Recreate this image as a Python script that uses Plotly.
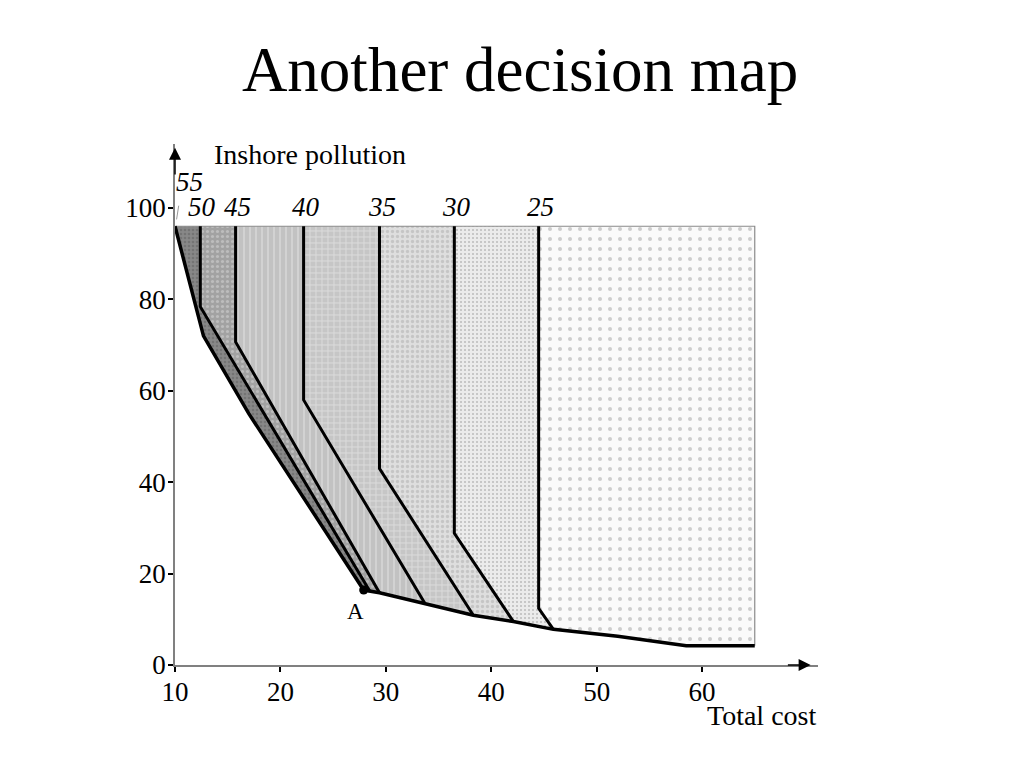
import plotly.graph_objects as go

# ---------------- data ----------------
contour_levels = [50, 45, 40, 35, 30, 25]
vert_x = [12.4, 15.75, 22.2, 29.4, 36.5, 44.5]      # x of vertical part of each contour
kink_y = [78.4, 70.7, 58.0, 43.0, 28.8, 12.4]       # where vertical part bends
end_x = [28.5, 29.4, 33.7, 38.3, 42.1, 45.9]        # where contour meets frontier
end_y = [16.1, 15.8, 13.5, 10.9, 9.5, 7.8]

frontier_x = [10, 12.7, 17.0, 27.9, 29.4, 33.7, 38.3, 42.1, 45.9, 52.0, 58.5, 65]
frontier_y = [96, 72.0, 55.0, 16.4, 15.8, 13.5, 10.9, 9.5, 7.8, 6.3, 4.2, 4.2]

top_level = 55
top_y = 96
right_x = 65

point_A = (27.9, 16.4)

x_ticks = [10, 20, 30, 40, 50, 60]
y_ticks = [0, 20, 40, 60, 80, 100]

# ---------------- styles ----------------
FONT = "Liberation Serif"
region_styles = [
    dict(bg="#888888", fg="#606060", shape=".", size=4, sol=0.35),
    dict(bg="#a2a2a2", fg="#d8d8d8", shape=".", size=5, sol=0.3),
    dict(bg="#c2c2c2", fg="#eeeeee", shape="|", size=6, sol=0.25),
    dict(bg="#c6c6c6", fg="#f1f1f1", shape="+", size=6, sol=0.3),
    dict(bg="#dedede", fg="#ababab", shape=".", size=5, sol=0.35),
    dict(bg="#ebebeb", fg="#8a8a8a", shape=".", size=4, sol=0.2),
    dict(bg="#fafafa", fg="#a0a0a0", shape=".", size=10, sol=0.13),
]

# contour polylines top -> bottom
lines = []
for vx, ky, ex, ey in zip(vert_x, kink_y, end_x, end_y):
    lines.append(([vx, vx, ex], [top_y, ky, ey]))

left_bounds = [([frontier_x[0]], [frontier_y[0]])] + lines
right_bounds = lines + [([right_x, right_x], [top_y, frontier_y[-1]])]

fig = go.Figure()

for (lx, ly), (rx, ry), st in zip(left_bounds, right_bounds, region_styles):
    px = list(lx)
    py = list(ly)
    for fx, fy in zip(frontier_x, frontier_y):
        if lx[-1] < fx < rx[-1]:
            px.append(fx)
            py.append(fy)
    px += list(reversed(rx))
    py += list(reversed(ry))
    fig.add_trace(go.Scatter(
        x=px, y=py, mode="lines", fill="toself", line=dict(width=0),
        fillcolor=st["bg"],
        fillpattern=dict(shape=st["shape"], bgcolor=st["bg"], fgcolor=st["fg"],
                         size=st["size"], solidity=st["sol"]),
        hoverinfo="skip", showlegend=False))

# box top and right edge
fig.add_trace(go.Scatter(x=[frontier_x[0], right_x, right_x], y=[top_y, top_y, frontier_y[-1]],
                         mode="lines", line=dict(color="#8a8a8a", width=1.2),
                         hoverinfo="skip", showlegend=False))

# contour lines
for lx, ly in lines:
    fig.add_trace(go.Scatter(x=lx, y=ly, mode="lines", line=dict(color="black", width=3),
                             hoverinfo="skip", showlegend=False))

# frontier
fig.add_trace(go.Scatter(x=frontier_x, y=frontier_y, mode="lines",
                         line=dict(color="black", width=3.5),
                         hoverinfo="skip", showlegend=False))

# tiny 55 mark
fig.add_trace(go.Scatter(x=[10.15, 10.35], y=[97.5, 100.5], mode="lines",
                         line=dict(color="#999999", width=1), hoverinfo="skip", showlegend=False))

# point A
fig.add_trace(go.Scatter(x=[point_A[0]], y=[point_A[1]], mode="markers",
                         marker=dict(color="black", size=9), hoverinfo="skip", showlegend=False))

annotations = []
# contour labels
annotations.append(dict(x=11.4, y=105.6, text=f"<i>{top_level}</i>", showarrow=False,
                        font=dict(family=FONT, size=27, color="black")))
for lvl, vx in zip(contour_levels, vert_x):
    annotations.append(dict(x=vx + 0.2, y=100.3, text=f"<i>{lvl}</i>", showarrow=False,
                            font=dict(family=FONT, size=27, color="black")))
annotations.append(dict(x=point_A[0] - 0.8, y=point_A[1] - 4.8, text="A", showarrow=False,
                        font=dict(family=FONT, size=23, color="black")))
# axis titles
annotations.append(dict(x=22.8, y=111.6, text="Inshore pollution", showarrow=False,
                        font=dict(family=FONT, size=28, color="black")))
annotations.append(dict(x=(65.6 - 10) / 61, y=-11.0 / 114, xref="paper", yref="paper",
                        xanchor="center", yanchor="middle",
                        text="Total cost", showarrow=False,
                        font=dict(family=FONT, size=28, color="black")))
# arrow heads
annotations.append(dict(x=70.3, y=0, ax=68.0, ay=0, axref="x", ayref="y", xref="x", yref="y",
                        text="", showarrow=True, arrowhead=2, arrowsize=1.6, arrowwidth=1.5,
                        arrowcolor="black"))
annotations.append(dict(x=10, y=113.2, ax=10, ay=107, axref="x", ayref="y", xref="x", yref="y",
                        text="", showarrow=True, arrowhead=2, arrowsize=1.6, arrowwidth=1.5,
                        arrowcolor="black"))

fig.update_layout(
    width=1008, height=752,
    margin=dict(l=167, r=198, t=136, b=95),
    paper_bgcolor="white", plot_bgcolor="white",
    title=dict(text="Another decision map", x=0.508, xanchor="center",
               y=0.889, yanchor="bottom", yref="container",
               font=dict(family=FONT, size=63, color="black")),
    annotations=annotations,
    xaxis=dict(range=[10, 71], tickvals=x_ticks, ticktext=[str(t) for t in x_ticks],
               showgrid=False, zeroline=False, showline=True, linecolor="#808080", linewidth=1.5,
               ticks="outside", ticklen=5, tickwidth=1.5, tickcolor="black",
               ticklabelstandoff=-3,
               tickfont=dict(family=FONT, size=27, color="black")),
    yaxis=dict(range=[0, 114], tickvals=y_ticks, ticktext=[str(t) for t in y_ticks],
               showgrid=False, zeroline=False, showline=True, linecolor="#808080", linewidth=1.5,
               ticks="outside", ticklen=5, tickwidth=1.5, tickcolor="black",
               ticklabelstandoff=-3,
               tickfont=dict(family=FONT, size=27, color="black")),
)

fig.write_html("out.html")
